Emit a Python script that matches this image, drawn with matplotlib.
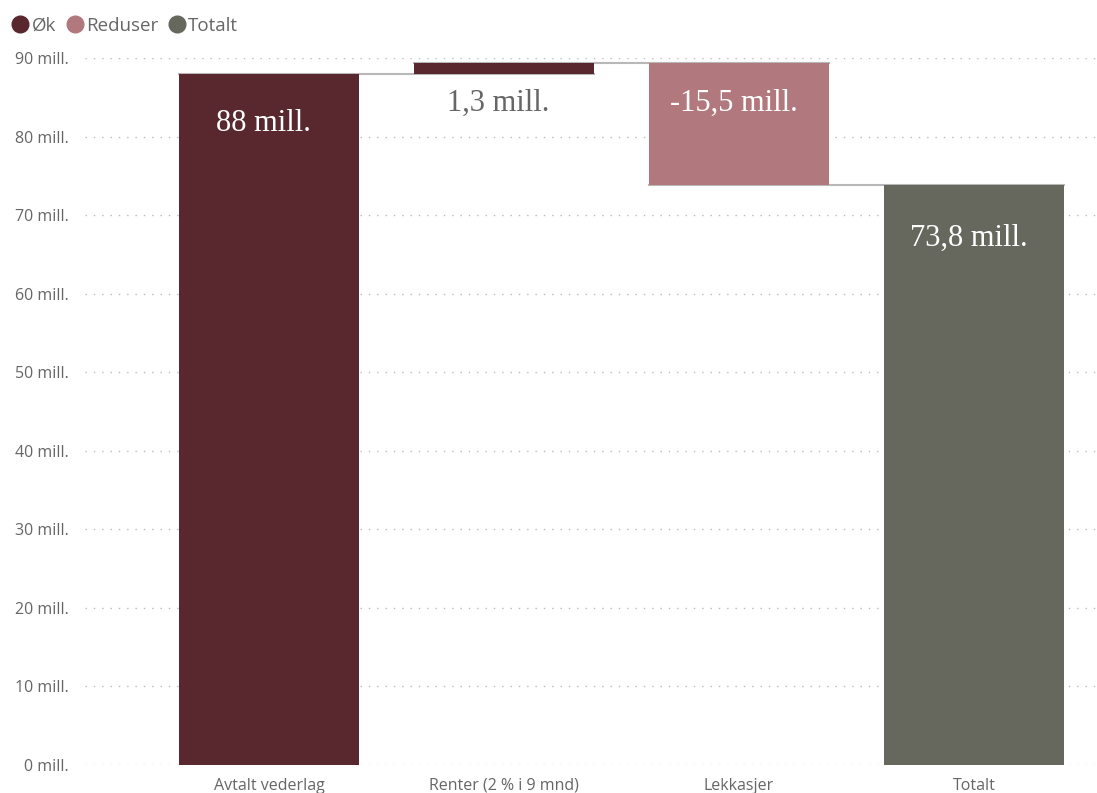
import matplotlib.pyplot as plt
from matplotlib.lines import Line2D

categories = ["Avtalt vederlag", "Renter (2 % i 9 mnd)", "Lekkasjer", "Totalt"]
values = [88, 1.3, -15.5, 73.8]
kinds = ["Øk", "Øk", "Reduser", "Totalt"]
y_ticks = [0, 10, 20, 30, 40, 50, 60, 70, 80, 90]

colors = {"Øk": "#59282F", "Reduser": "#B1787D", "Totalt": "#66675D"}
label_colors = ["white", "#666666", "white", "white"]
label_drop = [50, 40, 40, 53]  # px below bar top

fig = plt.figure(figsize=(10.97, 7.93), dpi=100)
ax = fig.add_axes([85 / 1097, 1 - 765 / 793, 1 - 85 / 1097, (765 - 58) / 793])

# waterfall: bottoms from running total
bottoms = []
tops = []
running = 0
for v, k in zip(values, kinds):
    if k == "Totalt":
        b, t = 0, v
        running = v
    else:
        b, t = running, running + v
        running = t
    bottoms.append(min(b, t))
    tops.append(max(b, t))

x = list(range(len(categories)))
width = 0.766
for i in x:
    ax.bar(i, tops[i] - bottoms[i], bottom=bottoms[i], width=width,
           color=colors[kinds[i]], zorder=3)

# connector lines
levels = []
running = 0
for v, k in zip(values, kinds):
    running = v if k == "Totalt" else running + v
    levels.append(running)
for i in range(len(x) - 1):
    ax.plot([i - width / 2, i + 1 + width / 2], [levels[i], levels[i]],
            color="#B8B8B8", lw=1.5, zorder=2)

# value labels
for i, v in enumerate(values):
    txt = f"{v:g}".replace(".", ",") + " mill."
    ax.annotate(txt, (i, tops[i]), xytext=(-4, -label_drop[i] * 72 / 100), textcoords="offset points",
                ha="center", va="center", fontsize=22, family="Liberation Serif",
                color=label_colors[i], zorder=4)

ax.set_xlim(-0.783, 3.523)
ax.set_ylim(0, 90)
ax.set_yticks(y_ticks)
ax.set_yticklabels([f"{t} mill." for t in y_ticks])
ax.set_xticks(x)
ax.set_xticklabels(categories)
ax.tick_params(axis="y", length=0, pad=12, labelsize=11.5, labelcolor="#666666")
ax.tick_params(axis="x", length=0, pad=9, labelsize=11.5, labelcolor="#666666")
for lab in ax.get_xticklabels() + ax.get_yticklabels():
    lab.set_family("Open Sans")
ax.grid(axis="y", linestyle=(0, (1, 5)), color="#BBBBBB", lw=1, zorder=0)
for s in ax.spines.values():
    s.set_visible(False)

handles = [Line2D([], [], marker="o", ls="", markersize=12, color=colors[k]) for k in ["Øk", "Reduser", "Totalt"]]
fig.legend(handles, ["Øk", "Reduser", "Totalt"], loc="upper left", bbox_to_anchor=(-0.007, 1.0),
           ncol=3, frameon=False, handletextpad=0.0, columnspacing=0.4, handlelength=1.2,
           prop={"family": "Open Sans", "size": 13.5}, labelcolor="#666666")

fig.savefig("out.png", dpi=100)
